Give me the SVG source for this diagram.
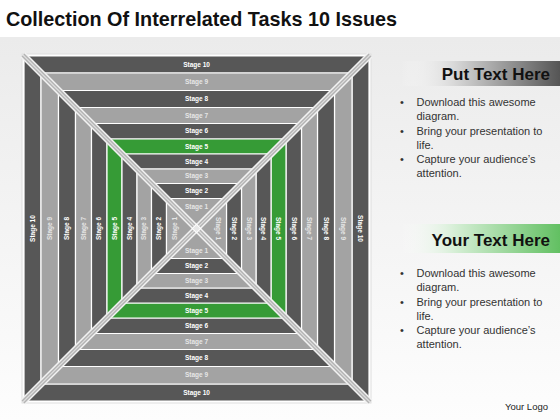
<svg xmlns="http://www.w3.org/2000/svg" xmlns:xlink="http://www.w3.org/1999/xlink" width="560" height="420" viewBox="0 0 560 420">
<defs>
<linearGradient id="bg" x1="0" y1="0" x2="0" y2="1">
<stop offset="0" stop-color="#ebebeb"/>
<stop offset="1" stop-color="#fdfdfd"/>
</linearGradient>
<linearGradient id="hd1" x1="0" y1="0" x2="1" y2="0">
<stop offset="0" stop-color="#ffffff" stop-opacity="0"/>
<stop offset="0.35" stop-color="#d6d6d6"/>
<stop offset="1" stop-color="#555555"/>
</linearGradient>
<linearGradient id="hd2" x1="0" y1="0" x2="1" y2="0">
<stop offset="0" stop-color="#ffffff" stop-opacity="0"/>
<stop offset="0.35" stop-color="#d4eed4"/>
<stop offset="1" stop-color="#62c062"/>
</linearGradient>
<style>
.dark{fill:#575757;stroke:#ffffff;stroke-width:1.2;stroke-linejoin:round}
.light{fill:#a3a3a3;stroke:#ffffff;stroke-width:1.2;stroke-linejoin:round}
.green{fill:#369b36;stroke:#ffffff;stroke-width:1.2;stroke-linejoin:round}
.lbl{font-family:"Liberation Sans",Arial,sans-serif;font-size:6.5px;font-weight:bold;fill:#ffffff;text-anchor:middle}
.lbl2{font-family:"Liberation Sans",Arial,sans-serif;font-size:6.5px;font-weight:bold;fill:#e6e6e6;text-anchor:middle}
.body{font-family:"Liberation Sans",Arial,sans-serif;font-size:11px;fill:#333333}
.head{font-family:"Liberation Sans",Arial,sans-serif;font-size:17px;font-weight:bold;fill:#111111;text-anchor:end}
</style>
</defs>
<rect x="0" y="0" width="560" height="420" fill="#ffffff"/>
<rect x="0" y="37" width="560" height="383" fill="url(#bg)"/>
<text x="6" y="26" font-family="Liberation Sans, Arial, sans-serif" font-size="19.8" font-weight="bold" fill="#111111">Collection Of Interrelated Tasks 10 Issues</text>

<rect x="22" y="54" width="349" height="349" fill="#ffffff" stroke="#dddddd" stroke-width="1"/>

<g id="stage10">
<polygon id="p10" class="dark" points="24,56 369,56 352,73 41,73"/>
<use xlink:href="#p10" href="#p10" transform="rotate(90 196.5 228.5)"/>
<use xlink:href="#p10" href="#p10" transform="rotate(180 196.5 228.5)"/>
<use xlink:href="#p10" href="#p10" transform="rotate(270 196.5 228.5)"/>
<text class="lbl" x="196.5" y="66.7">Stage 10</text>
<text class="lbl" x="196.5" y="394.7">Stage 10</text>
<text class="lbl" x="34.7" y="228.5" transform="rotate(-90 34.7 228.5)">Stage 10</text>
<text class="lbl" x="358.3" y="228.5" transform="rotate(90 358.3 228.5)">Stage 10</text>
</g>
<g id="stage9">
<polygon id="p9" class="light" points="41,73 352,73 334.5,90.5 58.5,90.5"/>
<use xlink:href="#p9" href="#p9" transform="rotate(90 196.5 228.5)"/>
<use xlink:href="#p9" href="#p9" transform="rotate(180 196.5 228.5)"/>
<use xlink:href="#p9" href="#p9" transform="rotate(270 196.5 228.5)"/>
<text class="lbl2" x="196.5" y="83.95">Stage 9</text>
<text class="lbl2" x="196.5" y="377.45">Stage 9</text>
<text class="lbl2" x="51.95" y="228.5" transform="rotate(-90 51.95 228.5)">Stage 9</text>
<text class="lbl2" x="341.05" y="228.5" transform="rotate(90 341.05 228.5)">Stage 9</text>
</g>
<g id="stage8">
<polygon id="p8" class="dark" points="58.5,90.5 334.5,90.5 317.5,107.5 75.5,107.5"/>
<use xlink:href="#p8" href="#p8" transform="rotate(90 196.5 228.5)"/>
<use xlink:href="#p8" href="#p8" transform="rotate(180 196.5 228.5)"/>
<use xlink:href="#p8" href="#p8" transform="rotate(270 196.5 228.5)"/>
<text class="lbl" x="196.5" y="101.2">Stage 8</text>
<text class="lbl" x="196.5" y="360.2">Stage 8</text>
<text class="lbl" x="69.2" y="228.5" transform="rotate(-90 69.2 228.5)">Stage 8</text>
<text class="lbl" x="323.8" y="228.5" transform="rotate(90 323.8 228.5)">Stage 8</text>
</g>
<g id="stage7">
<polygon id="p7" class="light" points="75.5,107.5 317.5,107.5 301.5,123.5 91.5,123.5"/>
<use xlink:href="#p7" href="#p7" transform="rotate(90 196.5 228.5)"/>
<use xlink:href="#p7" href="#p7" transform="rotate(180 196.5 228.5)"/>
<use xlink:href="#p7" href="#p7" transform="rotate(270 196.5 228.5)"/>
<text class="lbl2" x="196.5" y="117.7">Stage 7</text>
<text class="lbl2" x="196.5" y="343.7">Stage 7</text>
<text class="lbl2" x="85.7" y="228.5" transform="rotate(-90 85.7 228.5)">Stage 7</text>
<text class="lbl2" x="307.3" y="228.5" transform="rotate(90 307.3 228.5)">Stage 7</text>
</g>
<g id="stage6">
<polygon id="p6" class="dark" points="91.5,123.5 301.5,123.5 286,139 107,139"/>
<use xlink:href="#p6" href="#p6" transform="rotate(90 196.5 228.5)"/>
<use xlink:href="#p6" href="#p6" transform="rotate(180 196.5 228.5)"/>
<use xlink:href="#p6" href="#p6" transform="rotate(270 196.5 228.5)"/>
<text class="lbl" x="196.5" y="133.45">Stage 6</text>
<text class="lbl" x="196.5" y="327.95">Stage 6</text>
<text class="lbl" x="101.45" y="228.5" transform="rotate(-90 101.45 228.5)">Stage 6</text>
<text class="lbl" x="291.55" y="228.5" transform="rotate(90 291.55 228.5)">Stage 6</text>
</g>
<g id="stage5">
<polygon id="p5" class="green" points="107,139 286,139 271,154 122,154"/>
<use xlink:href="#p5" href="#p5" transform="rotate(90 196.5 228.5)"/>
<use xlink:href="#p5" href="#p5" transform="rotate(180 196.5 228.5)"/>
<use xlink:href="#p5" href="#p5" transform="rotate(270 196.5 228.5)"/>
<text class="lbl" x="196.5" y="148.7">Stage 5</text>
<text class="lbl" x="196.5" y="312.7">Stage 5</text>
<text class="lbl" x="116.7" y="228.5" transform="rotate(-90 116.7 228.5)">Stage 5</text>
<text class="lbl" x="276.3" y="228.5" transform="rotate(90 276.3 228.5)">Stage 5</text>
</g>
<g id="stage4">
<polygon id="p4" class="dark" points="122,154 271,154 256,169 137,169"/>
<use xlink:href="#p4" href="#p4" transform="rotate(90 196.5 228.5)"/>
<use xlink:href="#p4" href="#p4" transform="rotate(180 196.5 228.5)"/>
<use xlink:href="#p4" href="#p4" transform="rotate(270 196.5 228.5)"/>
<text class="lbl" x="196.5" y="163.7">Stage 4</text>
<text class="lbl" x="196.5" y="297.7">Stage 4</text>
<text class="lbl" x="131.7" y="228.5" transform="rotate(-90 131.7 228.5)">Stage 4</text>
<text class="lbl" x="261.3" y="228.5" transform="rotate(90 261.3 228.5)">Stage 4</text>
</g>
<g id="stage3">
<polygon id="p3" class="light" points="137,169 256,169 241.5,183.5 151.5,183.5"/>
<use xlink:href="#p3" href="#p3" transform="rotate(90 196.5 228.5)"/>
<use xlink:href="#p3" href="#p3" transform="rotate(180 196.5 228.5)"/>
<use xlink:href="#p3" href="#p3" transform="rotate(270 196.5 228.5)"/>
<text class="lbl2" x="196.5" y="178.45">Stage 3</text>
<text class="lbl2" x="196.5" y="282.95">Stage 3</text>
<text class="lbl2" x="146.45" y="228.5" transform="rotate(-90 146.45 228.5)">Stage 3</text>
<text class="lbl2" x="246.55" y="228.5" transform="rotate(90 246.55 228.5)">Stage 3</text>
</g>
<g id="stage2">
<polygon id="p2" class="dark" points="151.5,183.5 241.5,183.5 226.5,198.5 166.5,198.5"/>
<use xlink:href="#p2" href="#p2" transform="rotate(90 196.5 228.5)"/>
<use xlink:href="#p2" href="#p2" transform="rotate(180 196.5 228.5)"/>
<use xlink:href="#p2" href="#p2" transform="rotate(270 196.5 228.5)"/>
<text class="lbl" x="196.5" y="193.2">Stage 2</text>
<text class="lbl" x="196.5" y="268.2">Stage 2</text>
<text class="lbl" x="161.2" y="228.5" transform="rotate(-90 161.2 228.5)">Stage 2</text>
<text class="lbl" x="231.8" y="228.5" transform="rotate(90 231.8 228.5)">Stage 2</text>
</g>
<g id="stage1">
<polygon id="p1" class="light" points="166.5,198.5 226.5,198.5 196.5,228.5"/>
<use xlink:href="#p1" href="#p1" transform="rotate(90 196.5 228.5)"/>
<use xlink:href="#p1" href="#p1" transform="rotate(180 196.5 228.5)"/>
<use xlink:href="#p1" href="#p1" transform="rotate(270 196.5 228.5)"/>
<text class="lbl2" x="196.5" y="208.7">Stage 1</text>
<text class="lbl2" x="196.5" y="252.7">Stage 1</text>
<text class="lbl2" x="176.7" y="228.5" transform="rotate(-90 176.7 228.5)">Stage 1</text>
<text class="lbl2" x="216.3" y="228.5" transform="rotate(90 216.3 228.5)">Stage 1</text>
</g>

<g id="connectors">
<line x1="23" y1="55" x2="370" y2="402" stroke="#f2f2f2" stroke-width="7"/>
<line x1="370" y1="55" x2="23" y2="402" stroke="#f2f2f2" stroke-width="7"/>
<line x1="23" y1="55" x2="370" y2="402" stroke="#b4b4b4" stroke-width="4"/>
<line x1="370" y1="55" x2="23" y2="402" stroke="#b4b4b4" stroke-width="4"/>
<line x1="23" y1="55" x2="370" y2="402" stroke="#dedede" stroke-width="1.2"/>
<line x1="370" y1="55" x2="23" y2="402" stroke="#dedede" stroke-width="1.2"/>
<rect x="193.5" y="225.5" width="6" height="6" fill="#e8e8e8" stroke="#ffffff" stroke-width="1" transform="rotate(45 196.5 228.5)"/>
</g>

<g id="panel1">
<rect x="400" y="61" width="160" height="25" fill="url(#hd1)"/>
<text class="head" x="550" y="80">Put Text Here</text>
<text class="body" x="400" y="105.5">•</text>
<text class="body" x="416.5" y="105.5">Download this awesome</text>
<text class="body" x="416.5" y="120">diagram.</text>
<text class="body" x="400" y="134.5">•</text>
<text class="body" x="416.5" y="134.5">Bring your presentation  to</text>
<text class="body" x="416.5" y="148.5">life.</text>
<text class="body" x="400" y="162.5">•</text>
<text class="body" x="416.5" y="162.5">Capture your audience’s</text>
<text class="body" x="416.5" y="177">attention.</text>
</g>
<g id="panel2">
<rect x="400" y="224" width="160" height="29" fill="url(#hd2)"/>
<text class="head" x="550" y="246">Your Text Here</text>
<text class="body" x="400" y="276.5">•</text>
<text class="body" x="416.5" y="276.5">Download this awesome</text>
<text class="body" x="416.5" y="291">diagram.</text>
<text class="body" x="400" y="305.5">•</text>
<text class="body" x="416.5" y="305.5">Bring your presentation  to</text>
<text class="body" x="416.5" y="319.5">life.</text>
<text class="body" x="400" y="333.5">•</text>
<text class="body" x="416.5" y="333.5">Capture your audience’s</text>
<text class="body" x="416.5" y="348">attention.</text>
</g>
<text x="548" y="410" text-anchor="end" font-family="Liberation Sans, Arial, sans-serif" font-size="9.5" fill="#222222">Your Logo</text>
</svg>
